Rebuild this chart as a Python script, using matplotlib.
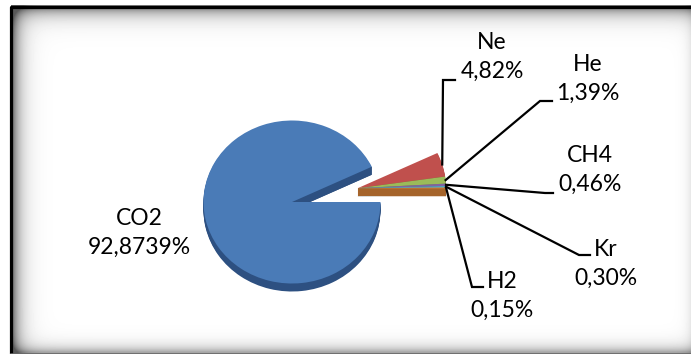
import numpy as np
import matplotlib
matplotlib.use("Agg")
import matplotlib.pyplot as plt
from matplotlib.patches import Polygon

gases = ["CO2", "Ne", "He", "CH4", "Kr", "H2"]
shares = [92.8739, 4.82, 1.39, 0.46, 0.30, 0.15]
share_labels = ["92,8739%", "4,82%", "1,39%", "0,46%", "0,30%", "0,15%"]

top_colors = ["#4a7bb7", "#c0504d", "#9bbb59", "#8064a2", "#4bacc6", "#f79646"]
side_colors = ["#2d5081", "#8c3431", "#6e8a3a", "#5a4678", "#2f7f93", "#a5642b"]

W, H = 691, 354
plt.rcParams['font.family'] = ['Lato', 'DejaVu Sans']

fig = plt.figure(figsize=(W / 100, H / 100), dpi=100)

# background panel: inner shadow + border, in pixel coords
bg = fig.add_axes([0, 0, 1, 1], zorder=0)
bg.set_xlim(0, W)
bg.set_ylim(H, 0)
bg.axis('off')
yy, xx = np.mgrid[0:H, 0:W] + 0.5
dark = (0.55 * np.exp(-np.clip(xx - 13, 0, None) / 8.0)
        + 0.50 * np.exp(-np.clip(yy - 8, 0, None) / 8.0)
        + 0.35 * np.exp(-np.clip(352 - yy, 0, None) / 6.0)
        + 0.12 * np.exp(-np.clip(692 - xx, 0, None) / 5.0))
shade = 1 - np.clip(dark, 0, 0.65)
shade[(xx < 11) | (yy < 5)] = 1
bg.imshow(shade, cmap='gray', vmin=0, vmax=1, extent=(0, W, H, 0),
          aspect='auto', interpolation='bilinear', zorder=0)
bg.plot([11.5, 11.5, 691], [354, 6.5, 6.5], color='black', lw=2.3,
        solid_capstyle='butt', zorder=2)
bg.plot([11.5, 691], [353.5, 353.5], color='#666666', lw=1.2, zorder=2)

# pie axes: 1 data unit = 88.5 px across, 81.5 px down (tilted look)
cx, cy, rx, ry = 292, 202, 88.5, 81.5
ax = fig.add_axes([0, 0, 1, 1], zorder=1)
ax.patch.set_visible(False)

def to_data(px, py):
    return (px - cx) / rx, (cy - py) / ry

depth = 8 / ry
n_small = len(shares) - 1
frac_small = sum(shares[1:]) / sum(shares)
mid_small = np.deg2rad(360 * frac_small / 2)
explode = 0.76
offset = (explode * np.cos(mid_small), explode * np.sin(mid_small))

def layer(colors, center):
    w, _ = ax.pie(shares, colors=colors, startangle=0, counterclock=False,
                  center=center, radius=1, wedgeprops=dict(linewidth=0))
    return w

def cut_face(center, theta, color):
    t = np.deg2rad(theta)
    x0, y0 = center
    x1, y1 = x0 + np.cos(t), y0 + np.sin(t)
    ax.add_patch(Polygon([(x0, y0), (x1, y1), (x1, y1 - depth), (x0, y0 - depth)],
                         closed=True, facecolor=color, linewidth=0))

clear = (0, 0, 0, 0)
main_side = [side_colors[0]] + [clear] * n_small
main_top = [top_colors[0]] + [clear] * n_small
small_side = [clear] + side_colors[1:]
small_top = [clear] + top_colors[1:]

# side walls, stacked a pixel at a time, then cut faces, then the top faces
for k in np.linspace(depth, 0, 9)[:-1]:
    layer(main_side, (0, -k))
first = layer(main_top, (0, 0))
for k in np.linspace(depth, 0, 9)[:-1]:
    layer(small_side, (offset[0], offset[1] - k))
cut_face(offset, 0, side_colors[-1])
first[0].remove()
cut_face((0, 0), first[0].theta1, side_colors[0])
layer(main_top, (0, 0))
wedges = layer(small_top, offset)

ax.set_aspect('auto')
ax.set_xlim(-cx / rx, (W - cx) / rx)
ax.set_ylim(-(H - cy) / ry, cy / ry)
ax.axis('off')

# label text centres and leader elbows (pixels)
label_pos = {"CO2": (139, 233), "Ne": (492, 57), "He": (588, 79),
             "CH4": (590, 170), "Kr": (606, 264), "H2": (502, 296)}
leaders = {"Ne": [(443, 80), (455, 80)], "He": [(540, 101), (552, 101)],
           "CH4": [(545, 193), (553, 193)], "Kr": [(579, 255), (590, 255)],
           "H2": [(472, 287), (483, 287)]}

for i, gas in enumerate(gases):
    lx, ly = to_data(*label_pos[gas])
    ax.text(lx, ly, f"{gas}\n{share_labels[i]}", ha='center', va='center',
            multialignment='center', fontsize=16.5, linespacing=1.45, color='black')
    if gas in leaders:
        w = wedges[i]
        th = np.deg2rad((w.theta1 + w.theta2) / 2)
        sx = w.center[0] + np.cos(th)
        sy = w.center[1] + np.sin(th)
        pts = [(sx, sy)] + [to_data(*p) for p in leaders[gas]]
        ax.plot([p[0] for p in pts], [p[1] for p in pts], color='black', lw=1.6,
                solid_joinstyle='miter')

fig.savefig("out.png", dpi=100)
